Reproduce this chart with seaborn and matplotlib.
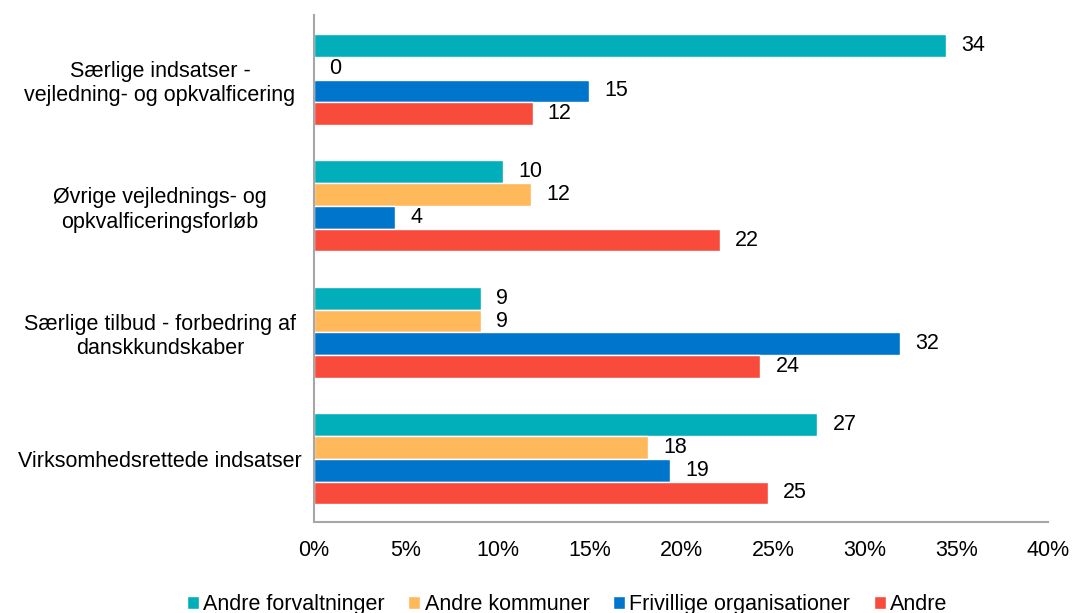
import matplotlib
matplotlib.use("Agg")
import matplotlib.pyplot as plt
import seaborn as sns
import pandas as pd

# data (shares in %)
kategorier = [
    "Særlige indsatser -\nvejledning- og opkvalficering",
    "Øvrige vejlednings- og\nopkvalficeringsforløb",
    "Særlige tilbud - forbedring af\ndanskkundskaber",
    "Virksomhedsrettede indsatser",
]
serier = ["Andre forvaltninger", "Andre kommuner", "Frivillige organisationer", "Andre"]
andre_forvaltninger = [34.4, 10.3, 9.1, 27.4]
andre_kommuner = [0.0, 11.8, 9.1, 18.2]
frivillige = [15.0, 4.4, 31.9, 19.4]
andre = [11.9, 22.1, 24.3, 24.7]
farver = ["#00AFB9", "#FFB95A", "#0075CC", "#F84B3C"]

rows = []
for navn, vals in zip(serier, [andre_forvaltninger, andre_kommuner, frivillige, andre]):
    for kat, v in zip(kategorier, vals):
        rows.append({"kategori": kat, "serie": navn, "andel": v})
df = pd.DataFrame(rows)

sns.set_theme(style="white")
plt.rcParams["font.family"] = ["Liberation Sans", "DejaVu Sans"]
plt.rcParams["text.color"] = "black"
plt.rcParams["xtick.color"] = "black"
plt.rcParams["ytick.color"] = "black"
fs = 15.5

fig = plt.figure(figsize=(10.72, 6.13), dpi=100)
ax = fig.add_axes([0.293, 0.1484, 0.685, 0.827])

sns.barplot(data=df, y="kategori", x="andel", hue="serie", orient="h",
            palette=farver, width=0.72, saturation=1, ax=ax, legend=True)

for c in ax.containers:
    ax.bar_label(c, labels=[f"{round(b.get_width()):d}" for b in c],
                 padding=11, fontsize=fs, color="black")

ax.set_xlim(0, 40)
ax.set_ylim(3.5, -0.51)
ax.set_xticks(range(0, 41, 5))
ax.set_xticklabels([f"{t}%" for t in range(0, 41, 5)], fontsize=fs)
ax.tick_params(axis="x", pad=13, length=0, labelcolor="black")
ax.tick_params(axis="y", pad=111, length=0, labelsize=fs, labelcolor="black")
for lbl in ax.get_yticklabels():
    lbl.set_horizontalalignment("center")
    lbl.set_multialignment("center")
ax.set_xlabel("")
ax.set_ylabel("")
for s in ["top", "right"]:
    ax.spines[s].set_visible(False)
for s in ["left", "bottom"]:
    ax.spines[s].set_color("#A6A6A6")
    ax.spines[s].set_linewidth(1.5)

handles, labels = ax.get_legend_handles_labels()
ax.get_legend().remove()
fig.legend(handles, labels, loc="center", bbox_to_anchor=(0.529, 0.014), ncol=4,
           frameon=False, fontsize=fs, handlelength=0.55, handleheight=0.55,
           handletextpad=0.2, columnspacing=1.1, labelcolor="black")

fig.savefig("out.png", dpi=100)
